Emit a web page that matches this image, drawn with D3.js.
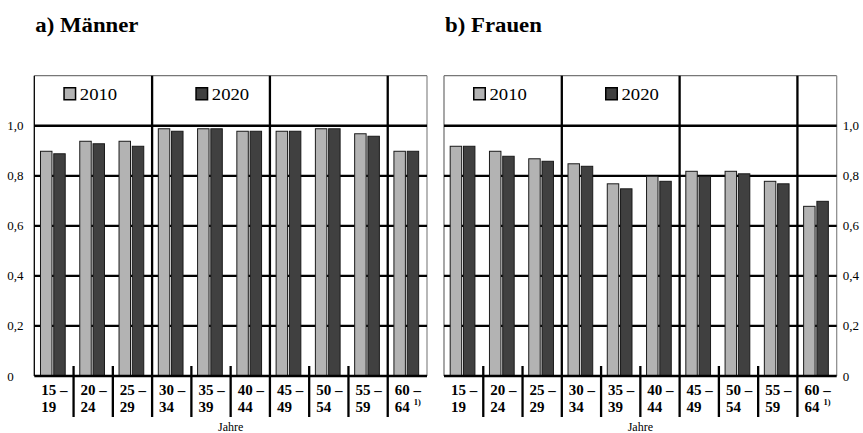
<!DOCTYPE html>
<html><head><meta charset="utf-8">
<script src="https://cdn.jsdelivr.net/npm/d3@7"></script>
<style>body{margin:0;background:#fff}svg{display:block}
svg text{font-family:"Liberation Serif","Times New Roman",Times,"DejaVu Serif",serif;}</style>
</head><body>
<script>
const categories = [["15 –","19"],["20 –","24"],["25 –","29"],["30 –","34"],["35 –","39"],["40 –","44"],["45 –","49"],["50 –","54"],["55 –","59"],["60 –","64"]];
const series = ["2010","2020"];
const maenner2010 = [0.90,0.94,0.94,0.99,0.99,0.98,0.98,0.99,0.97,0.90];
const maenner2020 = [0.89,0.93,0.92,0.98,0.99,0.98,0.98,0.99,0.96,0.90];
const frauen2010 = [0.92,0.90,0.87,0.85,0.77,0.80,0.82,0.82,0.78,0.68];
const frauen2020 = [0.92,0.88,0.86,0.84,0.75,0.78,0.80,0.81,0.77,0.70];
const yTicks = [0,0.2,0.4,0.6,0.8,1.0];
const yTickLabels = ["0","0,2","0,4","0,6","0,8","1,0"];
const titles = ["a) Männer","b) Frauen"];
const axisTitle = "Jahre";
const footnote = "1)";

const colors = {"2010":"#b3b3b3","2020":"#404040"};

const svg = d3.select("body").append("svg").attr("width",863).attr("height",433);

function panel(left, data2010, data2020, title, labelSide){
  const W = 392.7, top = 75.7, bottom = 376;
  const g = svg.append("g").attr("transform",`translate(${left},0)`);
  const idx = categories.map((c,i)=>i);
  const x0 = d3.scaleBand().domain(idx).range([0,W]);
  const bw = x0.bandwidth();
  const x1 = d3.scaleBand().domain(series).range([bw*0.145, bw*0.8]).paddingInner(0.06);
  const y = d3.scaleLinear().domain([0,1.2]).range([bottom, top]);

  svg.append("text").attr("transform",`translate(${left+1},32) scale(1.14,1)`).attr("font-size",20).attr("font-weight","bold")
    .attr("fill","#000").text(title);

  g.append("line").attr("x1",0).attr("x2",W).attr("y1",y(1.2)).attr("y2",y(1.2)).attr("stroke","#777").attr("stroke-width",1.2);
  g.append("line").attr("x1",W).attr("x2",W).attr("y1",y(1.2)).attr("y2",y(0)).attr("stroke","#888").attr("stroke-width",1.2);
  g.append("line").attr("x1",0).attr("x2",0).attr("y1",y(1.2)).attr("y2",y(0)).attr("stroke", labelSide==="left" ? "#000" : "#777").attr("stroke-width",1.3);

  g.selectAll("line.grid").data(yTicks.filter(d=>d>0)).enter().append("line").attr("class","grid")
    .attr("x1",0).attr("x2",W).attr("y1",d=>y(d)).attr("y2",d=>y(d)).attr("stroke","#000").attr("stroke-width",2.3);

  const dividers = [3,6,9];
  g.selectAll("line.div").data(dividers).enter().append("line").attr("class","div")
    .attr("x1",d=>x0(d)).attr("x2",d=>x0(d)).attr("y1",y(1.2)).attr("y2",417).attr("stroke","#000").attr("stroke-width",2.3);

  g.selectAll("line.tick").data(idx.filter(i=>i>0 && !dividers.includes(i))).enter().append("line").attr("class","tick")
    .attr("x1",d=>x0(d)).attr("x2",d=>x0(d)).attr("y1",366).attr("y2",417).attr("stroke","#000").attr("stroke-width",2.3);

  const rows = idx.map(i=>({i, v:{"2010":data2010[i],"2020":data2020[i]}}));
  const grp = g.selectAll("g.cat").data(rows).enter().append("g").attr("transform",d=>`translate(${x0(d.i)},0)`);
  grp.selectAll("rect").data(d=>series.map(s=>({s, v:d.v[s]}))).enter().append("rect")
    .attr("x",d=>x1(d.s)+0.5).attr("width",x1.bandwidth()-1)
    .attr("y",d=>y(d.v)+0.5).attr("height",d=>y(0)-y(d.v)-0.5)
    .attr("fill",d=>colors[d.s]).attr("stroke","#1a1a1a").attr("stroke-width",1);

  g.append("line").attr("x1",0).attr("x2",W).attr("y1",y(0)).attr("y2",y(0)).attr("stroke","#000").attr("stroke-width",2.6);

  const lx = labelSide==="left" ? -27 : W+6;
  g.selectAll("text.yl").data(yTicks).enter().append("text").attr("class","yl")
    .attr("x",lx).attr("y",d=>y(d)+4.5).attr("font-size",13).attr("fill","#000")
    .text((d,i)=>yTickLabels[i]);

  const cl = g.selectAll("g.cl").data(categories).enter().append("g")
    .attr("transform",(d,i)=>`translate(${x0(i)+7},0)`);
  cl.append("text").attr("y",395).attr("font-size",15).attr("font-weight","bold").text(d=>d[0]);
  cl.append("text").attr("y",412).attr("font-size",15).attr("font-weight","bold").text(d=>d[1]);
  g.append("text").attr("x",x0(9)+7+19).attr("y",405).attr("font-size",8.5).attr("font-weight","bold").text(footnote);

  g.append("text").attr("x",W/2).attr("y",431).attr("text-anchor","middle").attr("font-size",12).text(axisTitle);

  const lg = g.selectAll("g.lg").data(series).enter().append("g")
    .attr("transform",(d,i)=>`translate(${i===0?29:161},87)`);
  lg.append("rect").attr("x",0.75).attr("y",0.75).attr("width",11.5).attr("height",12).attr("fill",d=>colors[d]).attr("stroke","#000").attr("stroke-width",1.5);
  lg.append("text").attr("transform","translate(16.5,13.2) scale(1.1,1)").attr("font-size",17).text(d=>d);
}

panel(34.3, maenner2010, maenner2020, titles[0], "left");
panel(444, frauen2010, frauen2020, titles[1], "right");
</script>
</body></html>
